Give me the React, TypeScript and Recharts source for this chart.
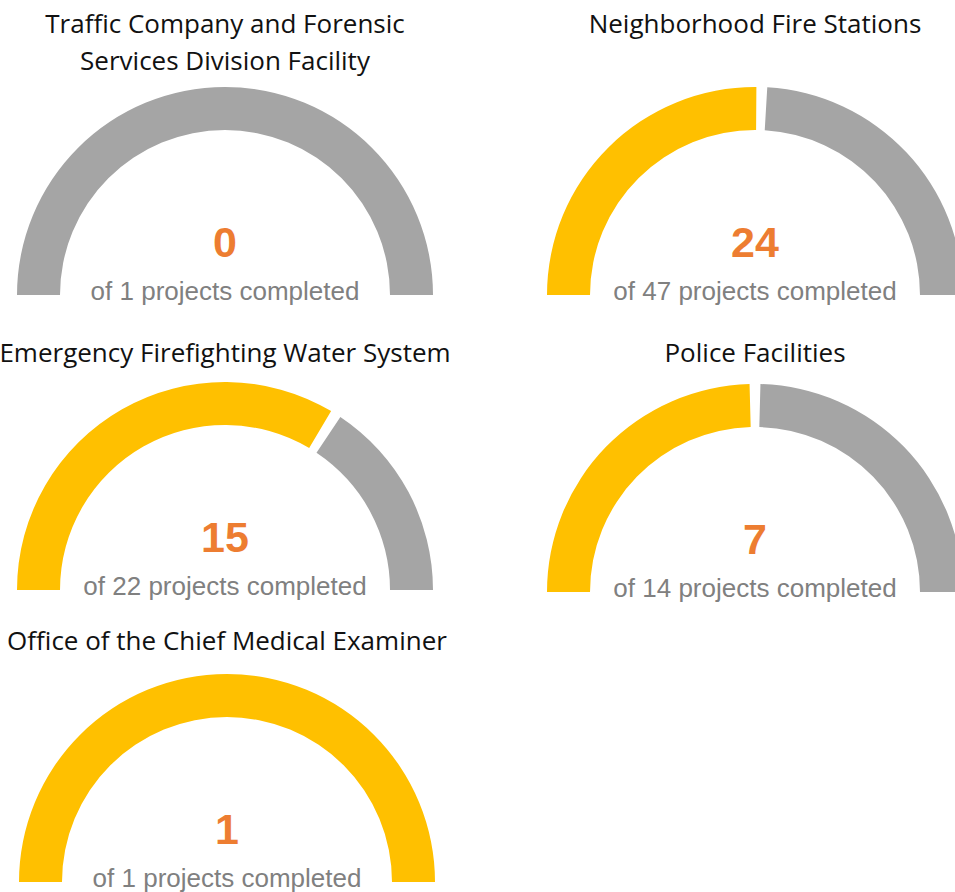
import React from "react";
import { PieChart, Pie, Cell } from "recharts";

const programNames: string[][] = [
  ["Traffic Company and Forensic", "Services Division Facility"],
  ["Neighborhood Fire Stations"],
  ["Emergency Firefighting Water System"],
  ["Police Facilities"],
  ["Office of the Chief Medical Examiner"],
];
const completedProjects = [0, 24, 15, 7, 1];
const totalProjects = [1, 47, 22, 14, 1];
const sliceNames = ["Completed", "Remaining"];

const COLOR_BY_NAME: Record<string, string> = { Completed: "#FFC000", Remaining: "#A5A5A5" };
const W = 955;
const H = 892;

// layout: gauge centres and title line centres
const layout = [
  { cx: 225, cy: 295, titleY: [23, 60] },
  { cx: 755, cy: 295, titleY: [23] },
  { cx: 225, cy: 590, titleY: [352] },
  { cx: 755, cy: 592, titleY: [352] },
  { cx: 227, cy: 882, titleY: [640] },
];
const OUTER = 208;
const INNER = 165;

export default function App() {
  const datasets = completedProjects.map((c, i) =>
    [
      { name: sliceNames[0], value: c },
      { name: sliceNames[1], value: totalProjects[i] - c },
    ].filter((e) => e.value > 0)
  );
  return (
    <div style={{ position: "absolute", left: 0, top: 0, width: W, height: H, background: "#fff", overflow: "hidden" }}>
      <PieChart width={W} height={H} margin={{ top: 0, right: 0, bottom: 0, left: 0 }}>
        {datasets.map((d, i) => (
          <Pie
            key={i}
            data={d}
            dataKey="value"
            nameKey="name"
            cx={layout[i].cx}
            cy={layout[i].cy}
            startAngle={180}
            endAngle={0}
            innerRadius={INNER}
            outerRadius={OUTER}
            paddingAngle={d.length > 1 ? 3 : 0}
            stroke="none"
            isAnimationActive={false}
          >
            {d.map((e, j) => (
              <Cell key={j} fill={COLOR_BY_NAME[e.name]} />
            ))}
          </Pie>
        ))}
      </PieChart>
      <svg width={W} height={H} style={{ position: "absolute", left: 0, top: 0, pointerEvents: "none" }}>
        {layout.map((l, i) => (
          <g key={i}>
            {programNames[i].map((line, k) => (
              <text
                key={k}
                x={l.cx}
                y={l.titleY[k]}
                textAnchor="middle"
                dominantBaseline="central"
                fontFamily="'Open Sans', sans-serif"
                fontSize={26}
                fill="#111"
              >
                {line}
              </text>
            ))}
            <text
              x={l.cx}
              y={l.cy - 38}
              textAnchor="middle"
              fontFamily="'Liberation Sans', Arial, sans-serif"
              fontWeight="bold"
              fontSize={43}
              fill="#ED7D31"
            >
              {completedProjects[i]}
            </text>
            <text
              x={l.cx}
              y={l.cy + 5}
              textAnchor="middle"
              fontFamily="'Liberation Sans', Arial, sans-serif"
              fontSize={26}
              fill="#808080"
            >
              {`of ${totalProjects[i]} projects completed`}
            </text>
          </g>
        ))}
      </svg>
    </div>
  );
}
